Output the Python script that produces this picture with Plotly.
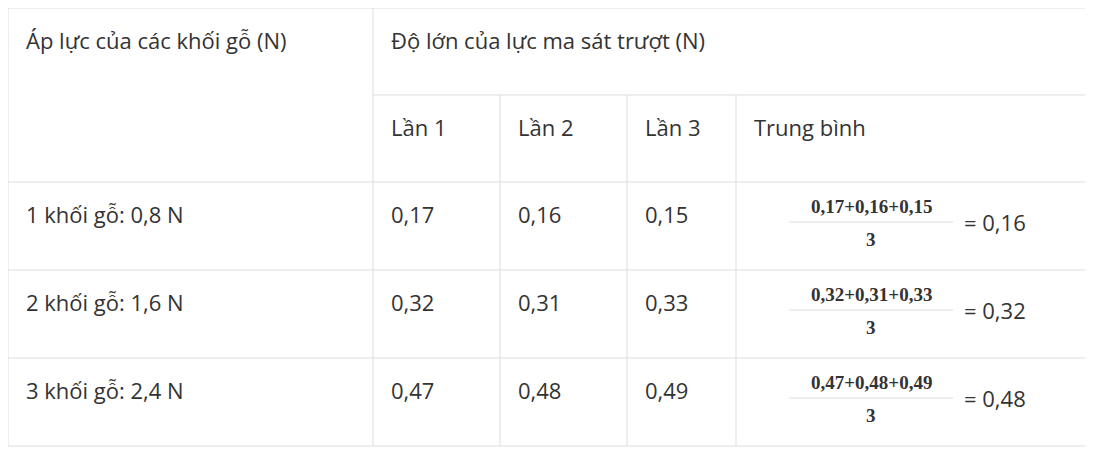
import plotly.graph_objects as go

header_left = "Áp lực của các khối gỗ (N)"
header_group = "Độ lớn của lực ma sát trượt (N)"
sub_headers = ["Lần 1", "Lần 2", "Lần 3", "Trung bình"]
row_labels = ["1 khối gỗ: 0,8 N", "2 khối gỗ: 1,6 N", "3 khối gỗ: 2,4 N"]
lan1 = ["0,17", "0,32", "0,47"]
lan2 = ["0,16", "0,31", "0,48"]
lan3 = ["0,15", "0,33", "0,49"]
avg = ["0,16", "0,32", "0,48"]

W, H = 1093, 451
OFF = 8  # page body margin
xb = [v - OFF for v in [8, 373, 500, 627, 736, 1088]]
yb = [v - OFF for v in [8, 95, 182, 270, 358, 446]]
line_c = "#dddddd"
txt_c = "#333333"
F = dict(family="Open Sans", size=22, color=txt_c)
FM = dict(family="Liberation Serif", size=19, color=txt_c)

fig = go.Figure()
shapes = []
def seg(x0, y0, x1, y1):
    shapes.append(dict(type="line", x0=x0, y0=y0, x1=x1, y1=y1, xref="x", yref="y",
                       line=dict(color=line_c, width=1)))
seg(xb[0], yb[0], xb[-1], yb[0]); seg(xb[0], yb[-1], xb[-1], yb[-1])
seg(xb[0], yb[0], xb[0], yb[-1]); seg(xb[-1], yb[0], xb[-1], yb[-1])
seg(xb[1], yb[0], xb[1], yb[-1])
seg(xb[1], yb[1], xb[-1], yb[1])
for y in yb[2:5]:
    seg(xb[0], y, xb[-1], y)
for x in xb[2:5]:
    seg(x, yb[1], x, yb[-1])

ann = []
def t(x, y, s, font=F, xa="left"):
    ann.append(dict(x=x, y=y, text=s, showarrow=False, xref="x", yref="y",
                    xanchor=xa, yanchor="middle", font=font))
pad = 16
t(xb[0] + pad, yb[0] + 32, header_left)
t(xb[1] + pad, yb[0] + 32, header_group)
for i, s in enumerate(sub_headers):
    t(xb[i + 1] + pad, yb[1] + 32, s)
for r in range(3):
    top = yb[2 + r]
    yc = top + 32
    t(xb[0] + pad, yc, row_labels[r])
    t(xb[1] + pad, yc, lan1[r])
    t(xb[2] + pad, yc, lan2[r])
    t(xb[3] + pad, yc, lan3[r])
    cx = xb[4] + 135
    t(cx, top + 24, "<b>%s+%s+%s</b>" % (lan1[r], lan2[r], lan3[r]), FM, "center")
    seg(cx - 82, top + 40, cx + 82, top + 40)
    t(cx, top + 57, "<b>3</b>", FM, "center")
    t(cx + 91, top + 40, "= " + avg[r])

fig.update_layout(width=W, height=H, margin=dict(l=0, r=0, t=0, b=0),
                  paper_bgcolor="white", plot_bgcolor="white",
                  shapes=shapes, annotations=ann, showlegend=False,
                  xaxis=dict(range=[0, W], visible=False, fixedrange=True),
                  yaxis=dict(range=[H, 0], visible=False, fixedrange=True))
fig.write_html("out.html")
